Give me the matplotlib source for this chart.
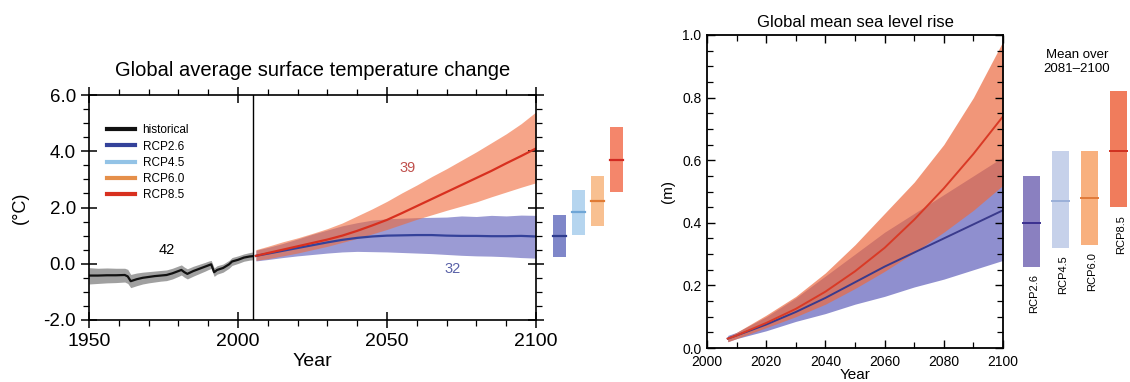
import matplotlib
matplotlib.use("Agg")
import matplotlib.pyplot as plt
from matplotlib.ticker import MultipleLocator, FormatStrFormatter
from matplotlib.lines import Line2D

plt.rcParams['font.family'] = ['Liberation Sans', 'DejaVu Sans']
plt.rcParams['axes.unicode_minus'] = False

# ---------------- Left panel data: temperature ----------------
hist_years = [1950, 1953, 1956, 1959, 1962, 1963, 1964, 1966, 1968, 1970, 1972, 1974,
              1976, 1978, 1980, 1981, 1982, 1983, 1985, 1987, 1989, 1990, 1991, 1992,
              1993, 1995, 1997, 1998, 2000, 2002, 2004, 2005]
hist_mean = [-0.42, -0.42, -0.41, -0.41, -0.40, -0.45, -0.62, -0.55, -0.50, -0.47, -0.44, -0.42,
             -0.40, -0.34, -0.26, -0.22, -0.30, -0.36, -0.26, -0.18, -0.10, -0.06, -0.02, -0.30,
             -0.22, -0.15, -0.02, 0.08, 0.14, 0.22, 0.26, 0.27]
hist_high = [-0.14, -0.16, -0.15, -0.16, -0.16, -0.20, -0.38, -0.33, -0.30, -0.28, -0.26, -0.24,
             -0.22, -0.16, -0.08, -0.04, -0.12, -0.18, -0.09, -0.02, 0.05, 0.09, 0.12, -0.15,
             -0.07, -0.01, 0.12, 0.22, 0.28, 0.35, 0.40, 0.42]
hist_low = [-0.72, -0.70, -0.68, -0.67, -0.65, -0.70, -0.85, -0.78, -0.72, -0.68, -0.65, -0.62,
            -0.60, -0.54, -0.45, -0.40, -0.48, -0.54, -0.44, -0.35, -0.26, -0.21, -0.17, -0.45,
            -0.37, -0.30, -0.16, -0.06, 0.01, 0.09, 0.13, 0.14]

proj_years = [2006, 2010, 2015, 2020, 2025, 2030, 2035, 2040, 2045, 2050,
              2055, 2060, 2065, 2070, 2075, 2080, 2085, 2090, 2095, 2100]
rcp85_mean = [0.28, 0.38, 0.50, 0.62, 0.74, 0.86, 1.00, 1.17, 1.36, 1.56,
              1.80, 2.05, 2.30, 2.55, 2.80, 3.05, 3.30, 3.57, 3.83, 4.10]
rcp85_high = [0.50, 0.62, 0.78, 0.92, 1.08, 1.25, 1.45, 1.70, 1.95, 2.22,
              2.52, 2.80, 3.10, 3.38, 3.68, 3.98, 4.30, 4.62, 4.98, 5.40]
rcp85_low = [0.12, 0.18, 0.28, 0.38, 0.50, 0.62, 0.76, 0.90, 1.06, 1.22,
             1.40, 1.58, 1.74, 1.90, 2.05, 2.20, 2.38, 2.55, 2.72, 2.88]
rcp26_mean = [0.28, 0.36, 0.46, 0.56, 0.66, 0.76, 0.85, 0.92, 0.97, 1.00,
              1.01, 1.02, 1.02, 1.00, 0.99, 0.99, 0.98, 0.98, 0.99, 0.97]
rcp26_high = [0.48, 0.58, 0.72, 0.88, 1.05, 1.20, 1.35, 1.46, 1.55, 1.60,
              1.62, 1.64, 1.65, 1.66, 1.70, 1.68, 1.72, 1.70, 1.73, 1.72]
rcp26_low = [0.10, 0.15, 0.22, 0.28, 0.33, 0.38, 0.42, 0.44, 0.43, 0.42,
             0.40, 0.38, 0.36, 0.33, 0.30, 0.28, 0.27, 0.25, 0.22, 0.20]

scenarios = ['RCP2.6', 'RCP4.5', 'RCP6.0', 'RCP8.5']
temp_bar_low = [0.23, 1.02, 1.34, 2.55]
temp_bar_high = [1.73, 2.62, 3.12, 4.86]
temp_bar_mean = [0.98, 1.84, 2.23, 3.69]

# ---------------- Right panel data: sea level ----------------
sl_years = [2007, 2010, 2020, 2030, 2040, 2050, 2060, 2070, 2080, 2090, 2100]
sl85_mean = [0.03, 0.04, 0.08, 0.125, 0.18, 0.245, 0.32, 0.41, 0.51, 0.62, 0.74]
sl85_high = [0.035, 0.05, 0.105, 0.165, 0.24, 0.33, 0.43, 0.53, 0.65, 0.80, 0.98]
sl85_low = [0.02, 0.03, 0.065, 0.10, 0.14, 0.19, 0.245, 0.305, 0.37, 0.44, 0.52]
sl26_mean = [0.03, 0.04, 0.075, 0.115, 0.16, 0.21, 0.26, 0.305, 0.35, 0.395, 0.44]
sl26_high = [0.04, 0.05, 0.10, 0.16, 0.23, 0.30, 0.37, 0.43, 0.49, 0.55, 0.61]
sl26_low = [0.02, 0.03, 0.055, 0.085, 0.11, 0.14, 0.165, 0.195, 0.22, 0.25, 0.28]

sl_bar_low = [0.26, 0.32, 0.33, 0.45]
sl_bar_high = [0.55, 0.63, 0.63, 0.82]
sl_bar_mean = [0.40, 0.47, 0.48, 0.63]

W, H = 1130, 382
fig = plt.figure(figsize=(W / 100, H / 100), dpi=100)


def px_axes(x0, y0, x1, y1):
    return fig.add_axes([x0 / W, 1 - y1 / H, (x1 - x0) / W, (y1 - y0) / H])


# ================= Left panel =================
ax = px_axes(89, 95, 536, 320)
ax.set_xlim(1950, 2100)
ax.set_ylim(-2.0, 6.0)

ax.fill_between(hist_years, hist_low, hist_high, color='#a0a0a0', lw=0)
ax.fill_between(proj_years, rcp26_low, rcp26_high, color='#9b9bd4', lw=0)
ax.fill_between(proj_years, rcp85_low, rcp85_high, color='#f06a3a', alpha=0.6, lw=0)
ax.plot(hist_years, hist_mean, color='#111111', lw=1.6)
ax.plot(proj_years, rcp26_mean, color='#34429a', lw=1.6)
ax.plot(proj_years, rcp85_mean, color='#d8301f', lw=1.6)
ax.axvline(2005, color='black', lw=1.0)

ax.text(1976, 0.5, '42', fontsize=10.5, color='black', ha='center', va='center')
ax.text(2057, 3.4, '39', fontsize=10.5, color='#c0504d', ha='center', va='center')
ax.text(2072, -0.2, '32', fontsize=10.5, color='#5a62a8', ha='center', va='center')

ax.xaxis.set_major_locator(MultipleLocator(50))
ax.xaxis.set_minor_locator(MultipleLocator(10))
ax.yaxis.set_major_locator(MultipleLocator(2))
ax.yaxis.set_minor_locator(MultipleLocator(0.5))
ax.yaxis.set_major_formatter(FormatStrFormatter('%.1f'))
ax.tick_params(which='major', direction='inout', length=11, width=1.1,
               top=True, right=True)
ax.tick_params(which='minor', direction='out', length=4, width=0.9,
               top=True, right=True)
ax.tick_params(axis='x', labelsize=14, pad=4)
ax.tick_params(axis='y', labelsize=13.5, pad=4)
for s in ax.spines.values():
    s.set_linewidth(1.2)
ax.set_xlabel('Year', fontsize=14, labelpad=2)
ax.set_ylabel('(°C)', fontsize=13, labelpad=10)
ax.set_title('Global average surface temperature change', fontsize=14.5, pad=14)

leg_handles = [Line2D([], [], color='#111111', lw=3),
               Line2D([], [], color='#34429a', lw=3),
               Line2D([], [], color='#93c3e6', lw=3),
               Line2D([], [], color='#e58f4a', lw=3),
               Line2D([], [], color='#d8301f', lw=3)]
leg_labels = ['historical'] + scenarios
ax.legend(leg_handles, leg_labels, loc='upper left', bbox_to_anchor=(0.03, 0.89),
          frameon=False, fontsize=8.5, handlelength=2.4, handletextpad=0.6,
          labelspacing=0.35, borderaxespad=0)

# side bars for temperature
tb = px_axes(550, 95, 626, 320)
tb.set_xlim(0, 4)
tb.set_ylim(-2.0, 6.0)
tb.axis('off')
t_fill = ['#7f87c9', '#b5d5ef', '#f8c091', '#f4866b']
t_line = ['#2e3c8e', '#6fa6d6', '#e07b35', '#d22b22']
for i in range(4):
    tb.bar(i + 0.5, temp_bar_high[i] - temp_bar_low[i], bottom=temp_bar_low[i],
           width=0.68, color=t_fill[i], lw=0)
    tb.plot([i + 0.16, i + 0.84], [temp_bar_mean[i]] * 2, color=t_line[i], lw=1.6)

# ================= Right panel =================
ax2 = px_axes(707, 35, 1003, 348)
ax2.set_xlim(2000, 2100)
ax2.set_ylim(0, 1.0)
ax2.fill_between(sl_years, sl26_low, sl26_high, color='#8f8fcf', lw=0)
ax2.fill_between(sl_years, sl85_low, sl85_high, color='#ec6a40', alpha=0.7, lw=0)
ax2.plot(sl_years, sl26_mean, color='#3a3a8c', lw=1.4)
ax2.plot(sl_years, sl85_mean, color='#d93a26', lw=1.4)
ax2.xaxis.set_major_locator(MultipleLocator(20))
ax2.xaxis.set_minor_locator(MultipleLocator(10))
ax2.yaxis.set_major_locator(MultipleLocator(0.2))
ax2.yaxis.set_minor_locator(MultipleLocator(0.05))
ax2.yaxis.set_major_formatter(FormatStrFormatter('%.1f'))
ax2.tick_params(which='major', direction='in', length=6, width=1.0,
                top=True, right=True, labelsize=10)
ax2.tick_params(axis='x', which='major', pad=5)
ax2.tick_params(axis='y', which='major', pad=4)
ax2.tick_params(which='minor', direction='in', length=4, width=0.9,
                top=True, right=True)
for s in ax2.spines.values():
    s.set_linewidth(1.3)
ax2.set_xlabel('Year', fontsize=11, labelpad=-1)
ax2.set_ylabel('(m)', fontsize=11, labelpad=5)
ax2.set_title('Global mean sea level rise', fontsize=12, pad=6)

fig.text(1077 / W, 1 - 62 / H, 'Mean over\n2081–2100', fontsize=9.5,
         ha='center', va='center', linespacing=1.2)

sb = px_axes(1017, 35, 1133, 348)
sb.set_xlim(0, 4)
sb.set_ylim(0, 1.0)
sb.axis('off')
s_fill = ['#8a80c0', '#c6d1ea', '#f8b07e', '#f07c5c']
s_line = ['#3b3090', '#9ab0d8', '#e07a3a', '#d03020']
for i in range(4):
    sb.bar(i + 0.5, sl_bar_high[i] - sl_bar_low[i], bottom=sl_bar_low[i],
           width=0.6, color=s_fill[i], lw=0, clip_on=False)
    sb.plot([i + 0.2, i + 0.8], [sl_bar_mean[i]] * 2, color=s_line[i], lw=1.4,
            clip_on=False)
    sb.text(i + 0.6, sl_bar_low[i] - 0.025, scenarios[i], rotation=90,
            ha='center', va='top', fontsize=8, clip_on=False)

fig.savefig('out.png', dpi=100)
